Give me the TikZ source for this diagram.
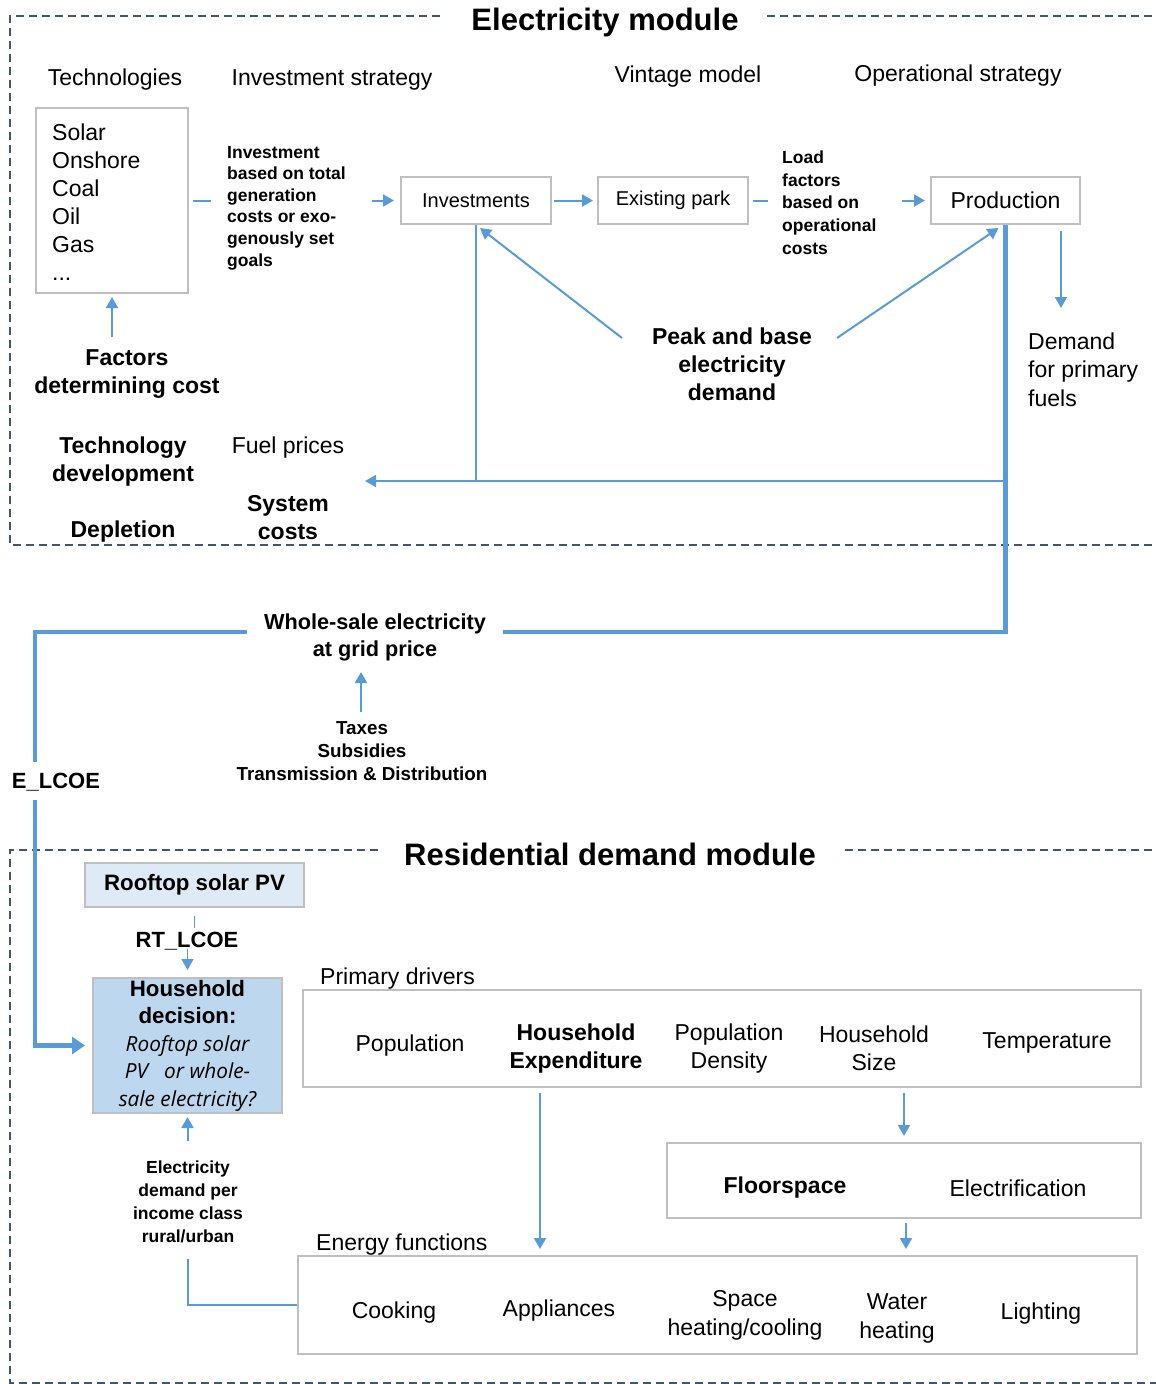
\documentclass[tikz,border=0pt]{standalone}
\usepackage{fontspec}
\setmainfont{Liberation Sans}
\newfontfamily\osfont{Open Sans}
\usetikzlibrary{arrows.meta}
\definecolor{blu}{HTML}{5B9BD5}
\definecolor{bgray}{HTML}{BFBFBF}
\definecolor{dgray}{HTML}{44546A}
\definecolor{lblue}{HTML}{DEEAF6}
\definecolor{mblue}{HTML}{BDD7EE}
\begin{document}
\begin{tikzpicture}[x=1pt,y=-1pt,
  conn/.style={draw=blu,line width=2pt},
  tconn/.style={draw=blu,line width=4.5pt},
  arr/.style={-{Triangle[length=11pt,width=12pt]}},
  tarr/.style={-{Triangle[length=13pt,width=17pt]}},
  box/.style={draw=bgray,line width=2pt,inner sep=0pt},
  dashbox/.style={draw=dgray,line width=1.5pt,dash pattern=on 8pt off 5pt},
  reg/.style={inner sep=0pt,yshift=-2.5pt,align=center,font=\fontsize{23}{28.5}\selectfont},
  bld/.style={inner sep=0pt,yshift=-2.5pt,align=center,font=\bfseries\fontsize{23}{28}\selectfont},
  sml/.style={inner sep=0pt,align=center,font=\bfseries\fontsize{17.5}{22.7}\selectfont},
  ttl/.style={inner sep=0pt,yshift=-1pt,font=\bfseries\fontsize{31}{36}\selectfont},
  boxtxt/.style={font=\fontsize{20}{24}\selectfont}
]
\useasboundingbox (0,0) rectangle (1156,1384);
\fill[white] (0,0) rectangle (1156,1384);

% ---------- Electricity module frame
\draw[dashbox] (440,16) -- (10,16) -- (10,545) -- (1156,545);
\draw[dashbox] (767,16) -- (1156,16);
\node[ttl] (etitle) at (605,21) {Electricity module};

\node[reg] (htech) at (115,77) {Technologies};
\node[reg] (hinv) at (332,77) {Investment strategy};
\node[reg] (hvint) at (688,74) {Vintage model};
\node[reg] (hop) at (958,73) {Operational strategy};

\node[box,minimum width=152,minimum height=185] (tech) at (112,200.5) {};
\node[inner sep=0pt,anchor=west,align=left,font=\fontsize{23}{28}\selectfont] (techlist) at (52,202)
  {Solar\\Onshore\\Coal\\Oil\\Gas\\...};

\node[sml,anchor=west,align=left,font=\bfseries\fontsize{17.5}{21.6}\selectfont] (invtxt) at (227,208)
  {Investment\\based on total\\generation\\costs or exo-\\genously set\\goals};

\node[box,boxtxt,minimum width=150,minimum height=47] (inv) at (476,200.5) {Investments};
\node[box,boxtxt,minimum width=150,minimum height=47] (park) at (673,200.5) {Existing park};
\node[box,minimum width=149,minimum height=47,font=\fontsize{23}{28}\selectfont] (prod) at (1005.5,200.5) {Production};

\node[sml,anchor=west,align=left] (loadtxt) at (782,202.5)
  {Load\\factors\\based on\\operational\\costs};

\node[bld] (peak) at (732,362) {Peak and base\\electricity\\demand};
\node[reg,anchor=west,align=left] (dem) at (1028,367) {Demand\\for primary\\fuels};

\node[bld] (factors) at (127,372) {Factors\\determining cost};
\node[bld] (techdev) at (123,459) {Technology\\development};
\node[reg] (fuel) at (288,445) {Fuel prices};
\node[bld] (syscost) at (288,515) {System\\costs};
\node[bld] (depl) at (123,529) {Depletion};

% connectors top
\draw[conn] ([xshift=4pt]tech.east) -- ([xshift=22pt]tech.east);
\draw[conn,arr] ([xshift=-28pt]inv.west) -- ([xshift=-6pt]inv.west);
\draw[conn,arr] ([xshift=2pt]inv.east) -- ([xshift=-4pt]park.west);
\draw[conn] ([xshift=4pt]park.east) -- ([xshift=19pt]park.east);
\draw[conn,arr] ([xshift=-28pt]prod.west) -- ([xshift=-5pt]prod.west);

\coordinate (pkL) at (622,338);
\coordinate (pkR) at (837,338);
\draw[conn,arr] (pkL) -- ([xshift=4pt,yshift=-3pt]inv.south);
\draw[conn,arr] (pkR) -- ([xshift=-7pt,yshift=-3pt]prod.south);
\draw[conn,arr] ([xshift=55.5pt,yshift=-6pt]prod.south) -- ++(0,77);

\coordinate (fA) at (112,337);
\draw[conn,arr] (fA) -- ([yshift=-3pt]tech.south);

\coordinate (sc) at (365,481);
\draw[conn] (inv.south) -- (inv.south |- sc);
\draw[conn,arr] (prod.south |- sc) -- (sc);

% ---------- whole-sale
\node[bld,inner xsep=17pt,yshift=0pt,font=\bfseries\fontsize{21.7}{27}\selectfont] (ws) at (375,634.5) {Whole-sale electricity\\at grid price};
\coordinate (wsR) at ([yshift=5pt]ws.east);
\coordinate (wsL) at ([yshift=5pt]ws.west);
\draw[tconn] (prod.south) |- (wsR);
\coordinate (c1) at (35,762);
\coordinate (c2) at (35,800);
\draw[tconn] (wsL) -| (c1);
\node[inner sep=0pt,font=\bfseries\fontsize{22}{26}\selectfont] (elcoe) at (56,782) {E\_LCOE};

\node[sml,font=\bfseries\fontsize{18.8}{23}\selectfont] (taxes) at (362,751) {Taxes\\Subsidies\\Transmission \& Distribution};
\coordinate (tA) at (361,712);
\draw[conn,arr] (tA) -- ++(0,-40);

% ---------- Residential module
\draw[dashbox] (378,850) -- (10,850) -- (10,1383) -- (1156,1383);
\draw[dashbox] (845,850) -- (1156,850);
\node[ttl,yshift=0pt,font=\bfseries\fontsize{31}{36}\selectfont] (rtitle) at (610,853) {Residential demand module};

\node[box,fill=lblue,minimum width=219,minimum height=44,font=\bfseries\fontsize{22.3}{26}\selectfont] (rt) at (194.5,885) {Rooftop solar PV};
\node[box,fill=mblue,minimum width=189,minimum height=135,align=center,font=\fontsize{22.3}{27.5}\selectfont] (hh) at (187.5,1045.5)
  {\bfseries Household\\\bfseries decision:\\{\osfont\itshape\fontsize{20.8}{27.5}\selectfont Rooftop solar}\\{\osfont\itshape\fontsize{20.8}{27.5}\selectfont PV\ \ \ or whole-}\\{\osfont\itshape\fontsize{20.8}{27.5}\selectfont sale electricity?}};

\draw[tconn,tarr] (c2) |- ([xshift=-7pt]hh.west);

\node[inner sep=0pt,font=\bfseries\fontsize{22}{26}\selectfont] (rtl) at (187,941) {RT\_LCOE};
\draw[conn,line width=1.6pt] ([yshift=-8pt]rt.south) -- ++(0,12);
\draw[conn,line width=1.6pt,arr] ([yshift=28pt]hh.north) -- ([yshift=7pt]hh.north);

\node[sml,font=\bfseries\fontsize{17.5}{23}\selectfont] (edem) at (188,1201.5) {Electricity\\demand per\\income class\\rural/urban};
\draw[conn,arr] ([yshift=-27pt]hh.south) -- ([yshift=-3pt]hh.south);

\node[reg,anchor=west] (pdl) at (320,976) {Primary drivers};
\node[box,minimum width=838,minimum height=97] (pd) at (722,1038.5) {};
\node[reg] (pop) at (410,1043) {Population};
\node[bld] (hexp) at (576,1046) {Household\\Expenditure};
\node[reg] (popd) at (729,1046) {Population\\Density};
\node[reg] (hsize) at (874,1046) {Household\\Size};
\node[reg] (temp) at (1047,1040) {Temperature};

\node[box,minimum width=474,minimum height=75] (fs) at (904,1180.5) {};
\node[bld] (floor) at (785,1185) {Floorspace};
\node[reg] (electr) at (1018,1186) {Electrification};

\node[reg,anchor=west] (efl) at (316,1242) {Energy functions};
\node[box,minimum width=839,minimum height=98] (ef) at (717.5,1305) {};
\node[reg] (cook) at (394,1310) {Cooking};
\node[reg] (appl) at (559,1308) {Appliances};
\node[reg] (space) at (745,1313) {Space\\heating/cooling};
\node[reg] (water) at (897,1316) {Water\\heating};
\node[reg] (light) at (1041,1311) {Lighting};

\draw[conn,arr] ([xshift=-182pt,yshift=-5pt]pd.south) -- ([xshift=-177.5pt,yshift=6pt]ef.north);
\draw[conn,arr] ([xshift=182pt,yshift=-5pt]pd.south) -- ([yshift=6pt]fs.north);
\draw[conn,arr] ([xshift=2pt,yshift=-4pt]fs.south) -- ([xshift=188.5pt,yshift=6pt]ef.north);
\draw[conn] ([yshift=-145pt]hh.south) |- (ef.west);
\end{tikzpicture}
\end{document}
